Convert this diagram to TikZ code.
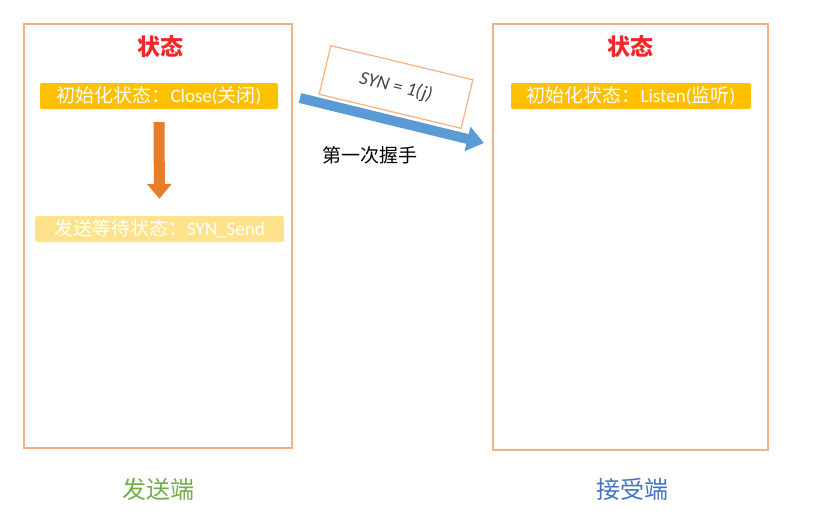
\documentclass[tikz,border=0pt]{standalone}
\usepackage{fontspec}
\setmainfont{Carlito}
\newfontfamily\cjk{Noto Sans CJK SC}
\usetikzlibrary{arrows.meta, positioning}
\definecolor{boxline}{RGB}{244,177,131}
\definecolor{barfill}{RGB}{255,192,0}
\definecolor{barfade}{RGB}{255,226,140}
\definecolor{stred}{RGB}{240,40,40}
\definecolor{sendgreen}{RGB}{112,173,71}
\definecolor{recvblue}{RGB}{68,114,196}
\definecolor{handblue}{RGB}{91,155,213}
\definecolor{downorange}{RGB}{230,125,45}
\newcommand{\zh}[1]{{\cjk #1}}

\begin{document}
\begin{tikzpicture}[x=1pt, y=-1pt,
    side/.style={draw=boxline, line width=1.5pt, minimum width=268pt, minimum height=424pt},
    title/.style={text=stred, font=\fontsize{23}{25}\selectfont\cjk\bfseries},
    bar/.style={fill=#1, rounded corners=1.5pt, text=white, inner sep=1pt,
      minimum height=26pt, font=\fontsize{19}{21}\selectfont},
    end/.style={text=#1, font=\fontsize{24}{26}\selectfont\cjk}]
      \useasboundingbox (0,0) rectangle (823,523);
      \node[side] (sender) at (158,236) {};
      \node[side, minimum width=275pt, minimum height=426pt] (receiver) at (630.5,237) {};
      \node[title] (st1) at (160,47) {状态};
      \node[title] (st2) at (630,47) {状态};
      \node[bar=barfill, minimum width=238pt] (close) at (159,96) {\zh{初始化状态：}Close(\zh{关闭})};
      \node[bar=barfade, minimum width=249pt] (send) at (159.5,229) {\zh{发送等待状态：}SYN\_Send};
      \node[bar=barfill, minimum width=240pt] (listen) at (631,96) {\zh{初始化状态：}Listen(\zh{监听})};
      \draw[downorange, line width=11pt, -{Triangle[width=24pt, length=15pt]},
        shorten <=13pt, shorten >=17pt] (close) -- (send);
      \node[draw=boxline, line width=1.2pt, rotate=-13.5, minimum width=146pt, minimum height=50pt,
        font=\fontsize{19}{21}\selectfont\itshape, text=black!75] (syn) at (396,87) {SYN = 1(j)};
      \coordinate (hs) at (300,98);
      \coordinate (he) at (484,143);
      \draw[handblue, line width=10pt, -{Triangle[width=24pt, length=17pt]}] (hs) -- (he);
      \node[font=\fontsize{19}{21}\selectfont\cjk] (first) at (370,155) {第一次握手};
      \node[end=sendgreen] (sendlbl) at (158,489) {发送端};
      \node[end=recvblue] (recvlbl) at (632,489) {接受端};
\end{tikzpicture}
\end{document}
